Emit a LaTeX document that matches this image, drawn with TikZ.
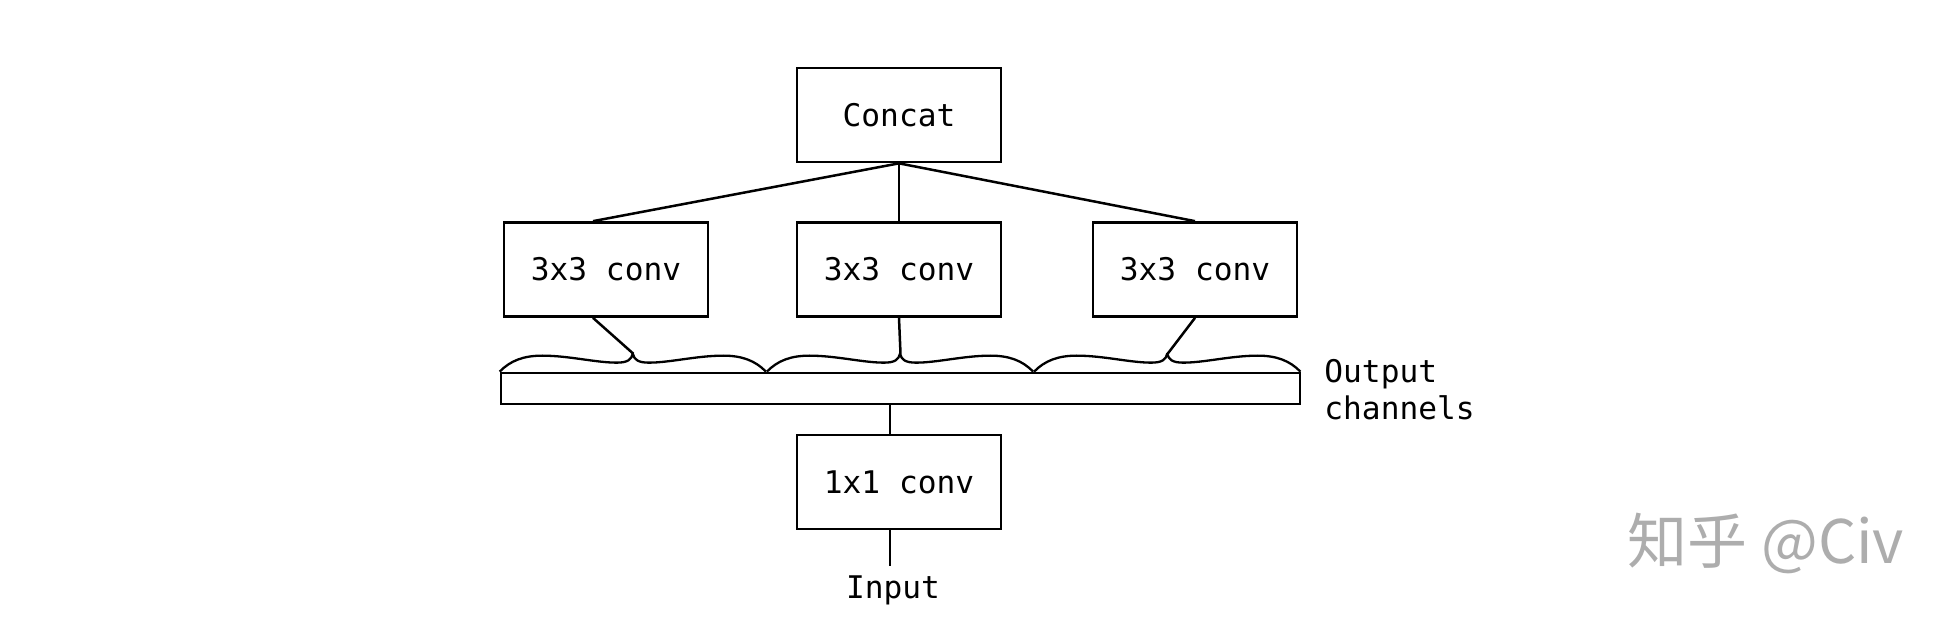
\documentclass[tikz,border=0pt]{standalone}
\usepackage{fontspec}
\setmonofont{DejaVu Sans Mono}
\newfontfamily\cjk{Noto Sans CJK SC}
\usetikzlibrary{calc}
\begin{document}
\begin{tikzpicture}[x=0.5pt,y=-0.5pt,
  box/.style={draw,line width=1.35pt,minimum width=102pt,minimum height=47pt,inner sep=0pt,font=\ttfamily\fontsize{15.6}{18}\selectfont},
  conn/.style={line width=1.25pt},
  lbl/.style={font=\ttfamily\fontsize{15.6}{18.5}\selectfont,inner sep=0pt},
  cbrace/.pic={
    \draw[line width=1.15pt,line join=round] (0,0) .. controls (0.04,11) and (0.09,16) .. (0.16,16)
      .. controls (0.26,16) and (0.36,9) .. (0.44,9)
      .. controls (0.48,9) and (0.495,12) .. (0.5,18)
      .. controls (0.505,12) and (0.52,9) .. (0.56,9)
      .. controls (0.64,9) and (0.74,16) .. (0.84,16)
      .. controls (0.91,16) and (0.96,11) .. (1,0);
  }]
\useasboundingbox (0,0) rectangle (1950,620);
\node[box] (concat) at (899,115) {Concat};
\node[box] (c1) at (606,269.5) {3x3 conv};
\node[box] (c2) at (899,269.5) {3x3 conv};
\node[box] (c3) at (1195,269.5) {3x3 conv};
\node[draw,line width=1.35pt,minimum width=399.5pt,minimum height=15.5pt,inner sep=0pt] (bar) at (900.5,388.5) {};
\node[box] (c0) at (899,482) {1x1 conv};
\node[lbl] (input) at (893,590) {Input};
\node[lbl,anchor=west,align=left] (out) at (1324,390) {Output\\channels};
\node[font=\cjk\fontsize{30}{30}\selectfont,text=black!32,inner sep=0pt] (wm) at (1766,543) {知乎 @Civ};
% braces
\pic[x=133.15pt,y=0.5pt] at (bar.north west) {cbrace};
\pic[x=133.15pt,y=0.5pt] at ($(bar.north west)!1/3!(bar.north east)$) {cbrace};
\pic[x=133.15pt,y=0.5pt] at ($(bar.north west)!2/3!(bar.north east)$) {cbrace};
\coordinate (t1) at ($(bar.north west)!1/6!(bar.north east)+(0,-18)$);
\coordinate (t2) at ($(bar.north west)!1/2!(bar.north east)+(0,-18)$);
\coordinate (t3) at ($(bar.north west)!5/6!(bar.north east)+(0,-18)$);
% connectors
\draw[conn] (concat.south) -- ([xshift=-6.5pt]c1.north);
\draw[conn] (concat.south) -- (c2.north);
\draw[conn] (concat.south) -- (c3.north);
\draw[conn] ([xshift=-6.5pt]c1.south) -- (t1);
\draw[conn] (c2.south) -- (t2);
\draw[conn] (c3.south) -- (t3);
\draw[conn] (bar.south -| 890,0) -- (c0.north -| 890,0);
\draw[conn] (c0.south -| 890,0) -- (890,566);
\end{tikzpicture}
\end{document}
